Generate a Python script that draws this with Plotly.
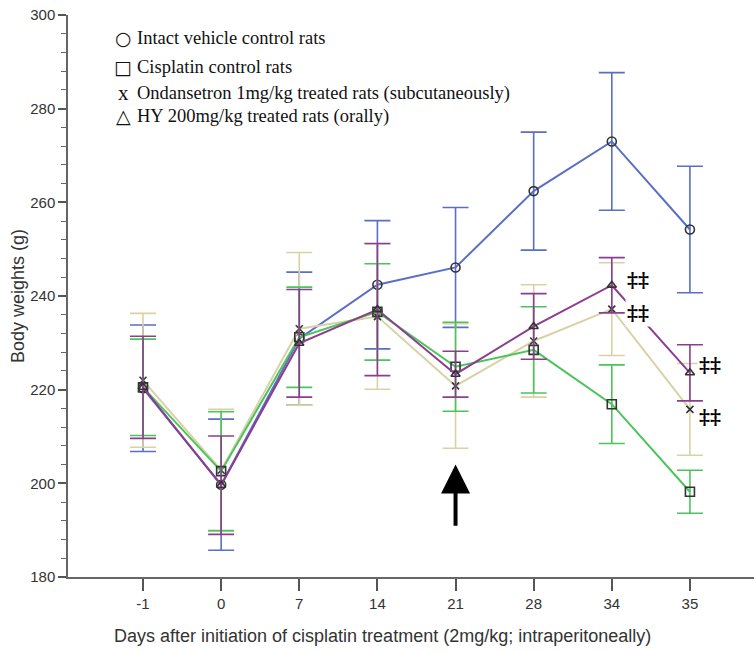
import plotly.graph_objects as go

days = ["-1", "0", "7", "14", "21", "28", "34", "35"]

intact_mean = [220.3, 199.7, 230.9, 242.4, 246.1, 262.4, 273.0, 254.2]
intact_se = [13.5, 14.0, 14.2, 13.7, 12.8, 12.6, 14.7, 13.5]

cisplatin_mean = [220.5, 202.6, 231.2, 236.6, 224.9, 228.5, 216.9, 198.2]
cisplatin_se = [10.3, 12.7, 10.7, 10.3, 9.5, 9.2, 8.4, 4.6]

ondansetron_mean = [222.0, 202.8, 233.0, 235.6, 220.8, 230.4, 237.2, 215.8]
ondansetron_se = [14.3, 13.0, 16.3, 15.5, 13.3, 12.0, 9.9, 9.8]

hy_mean = [220.5, 199.6, 229.9, 237.1, 223.3, 233.5, 242.3, 223.6]
hy_se = [10.9, 10.5, 11.5, 14.1, 4.9, 7.0, 5.9, 6.0]

legend_symbols = ["○", "□", "x", "△"]
legend_labels = [
    "Intact vehicle control rats",
    "Cisplatin control rats",
    "Ondansetron 1mg/kg treated rats (subcutaneously)",
    "HY 200mg/kg treated rats (orally)",
]

W, H = 754, 652
L, R, T, B = 68, 0, 15, 75
PW, PH = W - L - R, H - T - B


def px_x(p):
    return (p - L) / PW


def px_y(p):
    return (H - B - p) / PH


fig = go.Figure()

series = [
    (intact_mean, intact_se, "#5a6ec6", "circle-open", 9),
    (ondansetron_mean, ondansetron_se, "#d9d2a6", "x-thin-open", 7),
    (cisplatin_mean, cisplatin_se, "#4cc45c", "square-open", 9),
    (hy_mean, hy_se, "#8c3e8e", "triangle-up-open", 8),
]

for m, se, col, sym, sz in series:
    fig.add_trace(go.Scatter(
        x=days, y=m, mode="lines+markers",
        line=dict(color=col, width=2),
        marker=dict(symbol=sym, size=sz, color="#333333", line=dict(width=1.6, color="#333333")),
        error_y=dict(type="data", array=se, visible=True, color=col, thickness=1.6, width=13),
        showlegend=False,
    ))

ann = []
legend_y = [38, 67, 93, 116]
sym_font = ["DejaVu Sans", "DejaVu Sans", "Liberation Serif", "DejaVu Sans"]
sym_size = [19, 19, 21, 19]
for s, txt, py, sf, ss in zip(legend_symbols, legend_labels, legend_y, sym_font, sym_size):
    ann.append(dict(text=s, xref="paper", yref="paper", x=px_x(123), y=px_y(py),
                    xanchor="center", yanchor="middle", showarrow=False,
                    font=dict(family=sf, size=ss, color="#111111")))
    ann.append(dict(text=txt, xref="paper", yref="paper", x=px_x(135), y=px_y(py),
                    xanchor="left", yanchor="middle", showarrow=False,
                    font=dict(family="Liberation Serif, DejaVu Serif, serif", size=18.5, color="#111111")))

# significance marks (x given as category index)
i34, i35 = days.index("34"), days.index("35")
sig = [
    (i34, hy_mean[i34], 13, 6),
    (i34, ondansetron_mean[i34], 13, -3),
    (i35, hy_mean[i35], 7, 8),
    (i35, ondansetron_mean[i35], 7, -7),
]
for xd, yv, xs, ys in sig:
    ann.append(dict(text="<b>‡‡</b>", x=xd, y=yv, xref="x", yref="y", xshift=xs, yshift=ys,
                    xanchor="left", yanchor="middle", showarrow=False, bgcolor="white",
                    font=dict(family="DejaVu Serif, serif", size=21, color="#000000")))

# arrow at day 21
i21 = days.index("21")
ann.append(dict(text="", x=i21, y=204.0, ax=i21, ay=190.6, xref="x", yref="y",
                axref="x", ayref="y", showarrow=True, arrowhead=2, arrowsize=1.45,
                arrowwidth=4, arrowcolor="#000000"))

# axis titles
ann.append(dict(text="Days after initiation of cisplatin treatment (2mg/kg; intraperitoneally)",
                xref="paper", yref="paper", x=px_x(382), y=px_y(636), xanchor="center",
                yanchor="middle", showarrow=False,
                font=dict(family="Liberation Sans, Arial, sans-serif", size=18, color="#333333")))
ann.append(dict(text="Body weights (g)", xref="paper", yref="paper", x=px_x(18), y=px_y(296),
                xanchor="center", yanchor="middle", textangle=-90, showarrow=False,
                font=dict(family="Liberation Sans, Arial, sans-serif", size=18, color="#333333")))

fig.update_layout(
    width=W, height=H,
    margin=dict(l=L, r=R, t=T, b=B, autoexpand=False),
    paper_bgcolor="white", plot_bgcolor="white",
    annotations=ann,
    xaxis=dict(type="category", range=[-0.96, 7.82], showgrid=False, zeroline=False,
               showline=True, linecolor="#666666", linewidth=1.5,
               ticks="outside", ticklen=12, tickwidth=1.5, tickcolor="#555555",
               tickfont=dict(family="Liberation Sans Narrow, Arial Narrow, Liberation Sans, sans-serif",
                             size=15, color="#333333")),
    yaxis=dict(range=[180, 300], showgrid=False, zeroline=False,
               showline=True, linecolor="#666666", linewidth=1.5,
               tickmode="linear", tick0=180, dtick=20,
               ticks="outside", ticklen=8, tickwidth=1.5, tickcolor="#555555",
               minor=dict(dtick=4, ticks="outside", ticklen=5, tickwidth=1.2, tickcolor="#666666"),
               tickfont=dict(family="Liberation Sans, Arial, sans-serif", size=15, color="#333333")),
)

fig.write_html("out.html", config={"displayModeBar": False},
               post_script="document.body.style.margin='0';")
